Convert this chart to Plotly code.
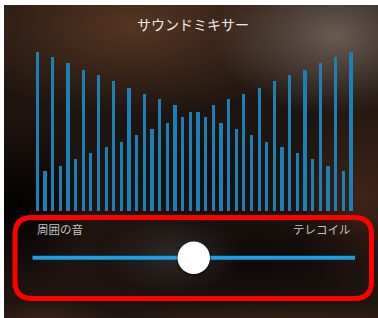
import base64
import plotly.graph_objects as go

# ---- data ----
title_text = "サウンドミキサー"
left_label = "周囲の音"
right_label = "テレコイル"

band_index = list(range(42))
levels = [159, 40, 154, 45, 148, 52, 141, 58, 136, 64,
          130, 69, 123, 76, 117, 82, 112, 88, 106, 94,
          99, 99,
          94, 106, 88, 112, 82, 117, 76, 123, 69, 130,
          64, 136, 58, 141, 52, 148, 45, 154, 40, 159]
mix_position = 0.5  # slider position between 周囲の音 (0) and テレコイル (1)

W, H = 378, 318


def px(x):
    return x / W


def py(y):
    return 1 - y / H


# ---- blurred dark background as an SVG ----
svg = f"""<svg xmlns='http://www.w3.org/2000/svg' width='374' height='313' viewBox='0 0 374 313'>
<defs>
<radialGradient id='a'><stop offset='0' stop-color='#553522' stop-opacity='1'/><stop offset='1' stop-color='#553522' stop-opacity='0'/></radialGradient>
<radialGradient id='b'><stop offset='0' stop-color='#6a5c53' stop-opacity='1'/><stop offset='1' stop-color='#6a5c53' stop-opacity='0'/></radialGradient>
<radialGradient id='c'><stop offset='0' stop-color='#020101' stop-opacity='1'/><stop offset='1' stop-color='#020101' stop-opacity='0'/></radialGradient>
<radialGradient id='d'><stop offset='0' stop-color='#3e2416' stop-opacity='1'/><stop offset='1' stop-color='#3e2416' stop-opacity='0'/></radialGradient>
<radialGradient id='e'><stop offset='0' stop-color='#0c0908' stop-opacity='1'/><stop offset='1' stop-color='#0c0908' stop-opacity='0'/></radialGradient>
<radialGradient id='f'><stop offset='0' stop-color='#33302e' stop-opacity='0.8'/><stop offset='1' stop-color='#33302e' stop-opacity='0'/></radialGradient>
<radialGradient id='g'><stop offset='0' stop-color='#40261a' stop-opacity='1'/><stop offset='1' stop-color='#40261a' stop-opacity='0'/></radialGradient>
<radialGradient id='h'><stop offset='0' stop-color='#120c0a' stop-opacity='0.9'/><stop offset='1' stop-color='#120c0a' stop-opacity='0'/></radialGradient>
</defs>
<rect width='374' height='313' fill='#1f1510'/>
<ellipse cx='130' cy='20' rx='190' ry='90' fill='url(#a)'/>
<ellipse cx='330' cy='30' rx='120' ry='80' fill='url(#b)'/>
<ellipse cx='15' cy='200' rx='70' ry='90' fill='url(#c)'/>
<ellipse cx='360' cy='190' rx='70' ry='110' fill='url(#d)'/>
<ellipse cx='200' cy='175' rx='90' ry='60' fill='url(#h)'/>
<ellipse cx='250' cy='255' rx='170' ry='60' fill='url(#e)'/>
<ellipse cx='170' cy='250' rx='70' ry='40' fill='url(#f)'/>
<ellipse cx='280' cy='325' rx='200' ry='30' fill='url(#g)'/>
<ellipse cx='40' cy='320' rx='80' ry='25' fill='url(#g)'/>
</svg>"""
bg_src = "data:image/svg+xml;base64," + base64.b64encode(svg.encode("utf-8")).decode("ascii")

fig = go.Figure()
fig.add_trace(go.Bar(
    x=band_index, y=levels, width=0.43,
    marker=dict(color="#1c80b7", line=dict(width=0)),
    hoverinfo="skip", showlegend=False,
))

# slider geometry (pixels)
track_x0, track_x1, track_y = 32.5, 355.0, 257.8
knob_x = track_x0 + (track_x1 - track_x0) * mix_position - 0.0
knob_r = 16.2

shapes = [
    dict(type="line", xref="paper", yref="paper",
         x0=px(track_x0), x1=px(track_x1), y0=py(track_y), y1=py(track_y),
         line=dict(color="#1ba0e4", width=4)),
    dict(type="circle", xref="paper", yref="paper",
         x0=px(knob_x - knob_r - 1.2), x1=px(knob_x + knob_r + 1.2),
         y0=py(track_y + knob_r + 2.2), y1=py(track_y - knob_r - 0.2),
         fillcolor="rgba(0,0,0,0.35)", line=dict(width=0)),
    dict(type="circle", xref="paper", yref="paper",
         x0=px(knob_x - knob_r), x1=px(knob_x + knob_r),
         y0=py(track_y + knob_r), y1=py(track_y - knob_r),
         fillcolor="#ffffff", line=dict(width=0)),
]

# red rounded highlight box
L, R, T, B, r = 15.0, 371.5, 217.5, 298.5, 17.0
path = (f"M {px(L + r)},{py(T)} L {px(R - r)},{py(T)} Q {px(R)},{py(T)} {px(R)},{py(T + r)} "
        f"L {px(R)},{py(B - r)} Q {px(R)},{py(B)} {px(R - r)},{py(B)} "
        f"L {px(L + r)},{py(B)} Q {px(L)},{py(B)} {px(L)},{py(B - r)} "
        f"L {px(L)},{py(T + r)} Q {px(L)},{py(T)} {px(L + r)},{py(T)} Z")
shapes.append(dict(type="path", xref="paper", yref="paper", path=path,
                   line=dict(color="#ff0000", width=5)))

cjk = "Noto Sans CJK JP"
annotations = [
    dict(text=title_text, xref="paper", yref="paper", x=px(193), y=py(23.5),
         xanchor="center", yanchor="middle", showarrow=False,
         font=dict(family=cjk, size=14, color="#ebebeb")),
    dict(text=left_label, xref="paper", yref="paper", x=px(34.5), y=py(229),
         xanchor="left", yanchor="middle", showarrow=False,
         font=dict(family=cjk, size=11.5, color="#c4c4c4")),
    dict(text=right_label, xref="paper", yref="paper", x=px(352.5), y=py(229),
         xanchor="right", yanchor="middle", showarrow=False,
         font=dict(family=cjk, size=11.5, color="#c4c4c4")),
]

x_step = 7.65
x_first = 37.3
fig.update_layout(
    width=W, height=H,
    margin=dict(l=0, r=0, t=0, b=0),
    paper_bgcolor="#ffffff",
    plot_bgcolor="rgba(0,0,0,0)",
    xaxis=dict(range=[-x_first / x_step, (W - x_first) / x_step], visible=False, fixedrange=True),
    yaxis=dict(range=[211 - H, 211], visible=False, fixedrange=True),
    images=[dict(source=bg_src, xref="paper", yref="paper",
                 x=px(4), y=py(5), sizex=px(W - 4), sizey=(H - 5) / H,
                 xanchor="left", yanchor="top", sizing="stretch", layer="below")],
    shapes=shapes,
    annotations=annotations,
    bargap=0,
)

fig.write_html(
    "out.html",
    config={"displayModeBar": False, "staticPlot": True},
    post_script="document.body.style.margin='0';document.body.style.overflow='hidden';",
)
